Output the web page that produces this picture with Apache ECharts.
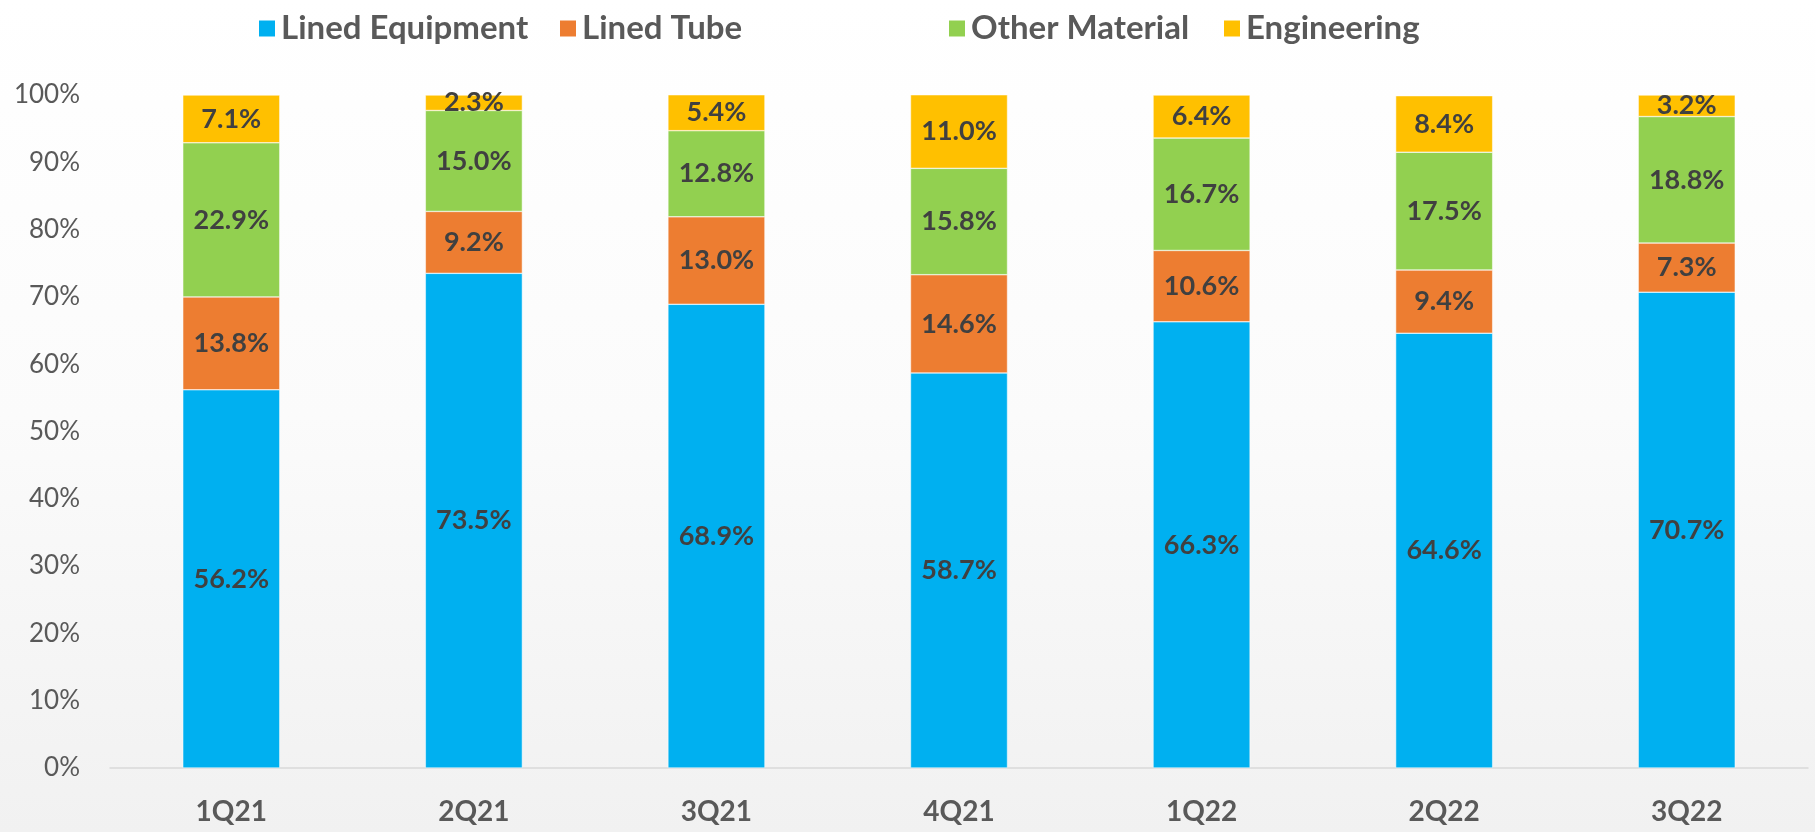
<!DOCTYPE html>
<html>
<head>
<meta charset="utf-8">
<style>
  html, body { margin: 0; padding: 0; background: #fff; }
  #chart { width: 1815px; height: 832px; }
</style>
<script src="https://cdn.jsdelivr.net/npm/echarts@6/dist/echarts.min.js"></script>
</head>
<body>
<div id="chart"></div>
<script>
// quarters
const quarters = ['1Q21', '2Q21', '3Q21', '4Q21', '1Q22', '2Q22', '3Q22']
const yTicks = [0, 10, 20, 30, 40, 50, 60, 70, 80, 90, 100]

// share of revenue, %
const linedEquipment = [56.2, 73.5, 68.9, 58.7, 66.3, 64.6, 70.7]
const linedTube = [13.8, 9.2, 13.0, 14.6, 10.6, 9.4, 7.3]
const otherMaterial = [22.9, 15.0, 12.8, 15.8, 16.7, 17.5, 18.8]
const engineering = [7.1, 2.3, 5.4, 11.0, 6.4, 8.4, 3.2]

const seriesNames = ['Lined Equipment', 'Lined Tube', 'Other Material', 'Engineering']
const colors = ['#00B0F0', '#ED7D31', '#92D050', '#FFC000']
const legendLeft = [252, 553, 942, 1217]

const FONT = 'Lato, "Open Sans", sans-serif'

const chart = echarts.init(document.getElementById('chart'))

function makeSeries(name, data, color) {
  return {
    name: name,
    type: 'bar',
    stack: 'total',
    barWidth: '40%',
    data: data,
    itemStyle: {
      color: color,
      borderColor: '#fff',
      borderWidth: 0.5
    },
    label: {
      show: true,
      position: 'inside',
      formatter: p => p.value.toFixed(1) + '%',
      color: '#404040',
      fontFamily: FONT,
      fontWeight: 'bold',
      fontSize: 27
    }
  }
}

chart.setOption({
  backgroundColor: {
    type: 'linear', x: 0, y: 0, x2: 0, y2: 1,
    colorStops: [
      { offset: 0, color: '#ffffff' },
      { offset: 0.5, color: '#fbfbfb' },
      { offset: 1, color: '#f1f1f1' }
    ]
  },
  animation: false,
  color: colors,
  legend: seriesNames.map((n, i) => ({
    data: [n],
    left: legendLeft[i],
    top: 7,
    icon: 'rect',
    itemWidth: 18,
    itemHeight: 18,
    itemGap: 9,
    textStyle: {
      color: '#595959',
      fontFamily: FONT,
      fontWeight: 'bold',
      fontSize: 33
    }
  })),
  grid: {
    left: 110,
    right: 7,
    top: 95,
    bottom: 64,
    containLabel: false
  },
  xAxis: {
    type: 'category',
    data: quarters,
    axisLine: { lineStyle: { color: '#d9d9d9', width: 1.5 } },
    axisTick: { show: false },
    axisLabel: {
      margin: 30,
      color: '#595959',
      fontFamily: FONT,
      fontWeight: 'bold',
      fontSize: 28
    }
  },
  yAxis: {
    type: 'value',
    min: yTicks[0],
    max: yTicks[yTicks.length - 1],
    interval: 10,
    axisLine: { show: false },
    axisTick: { show: false },
    splitLine: { show: false },
    axisLabel: {
      margin: 30,
      color: '#595959',
      fontFamily: FONT,
      fontSize: 26,
      formatter: v => v + '%'
    }
  },
  series: [
    makeSeries(seriesNames[0], linedEquipment, colors[0]),
    makeSeries(seriesNames[1], linedTube, colors[1]),
    makeSeries(seriesNames[2], otherMaterial, colors[2]),
    makeSeries(seriesNames[3], engineering, colors[3])
  ]
})
</script>
</body>
</html>
